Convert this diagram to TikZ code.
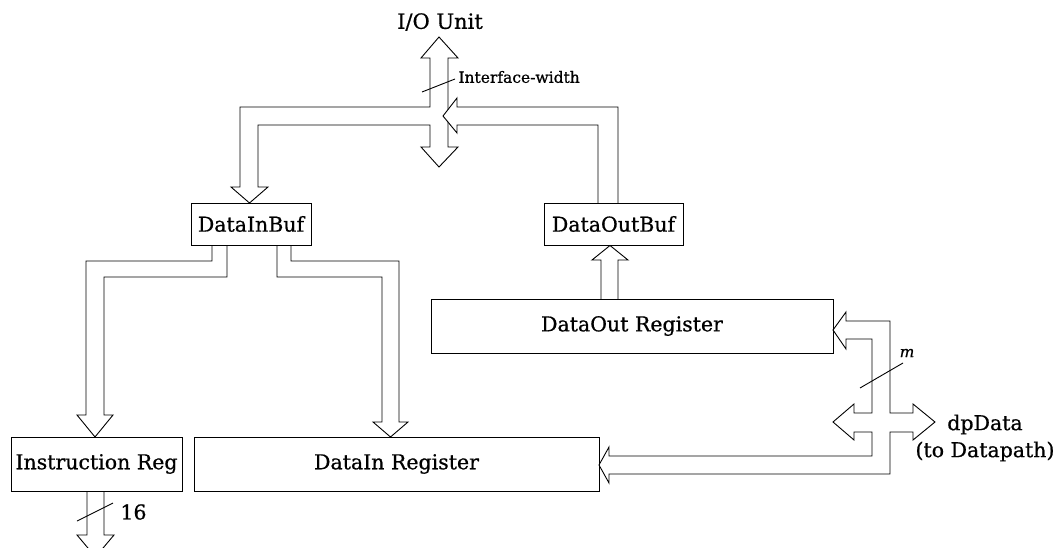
\documentclass[tikz,border=0pt]{standalone}
\usepackage{fontspec}
\setmainfont{DejaVu Serif}[RawFeature={embolden=0.7}]
\begin{document}
\begin{tikzpicture}[x=1pt,y=-1pt,line width=0.9pt,
  bus/.style={draw=black,line join=miter,miter limit=20},
  box/.style={draw=black,rectangle,inner sep=0pt,font=\fontsize{20.5}{24}\selectfont},
  lbl/.style={inner sep=0pt,font=\fontsize{20.5}{27}\selectfont},
  smalllbl/.style={inner sep=0pt,font=\fontsize{15.5}{18}\selectfont}]
\useasboundingbox (0,0) rectangle (1060,548);
\clip (0,0) rectangle (1060,548);
% boxes
\node[box,minimum width=120pt,minimum height=42pt] (inbuf) at (251,224) {DataInBuf};
\node[box,minimum width=139pt,minimum height=42pt] (outbuf) at (613.5,224) {DataOutBuf};
\node[box,minimum width=402pt,minimum height=54pt] (outreg) at (632,326) {DataOut Register};
\node[box,minimum width=171pt,minimum height=54pt] (ireg) at (96.5,464) {Instruction Reg};
\node[box,minimum width=405pt,minimum height=54pt] (inreg) at (396.5,464) {DataIn Register};
% labels
\node[lbl,font=\fontsize{21}{27}\selectfont] (io) at (440,22) {I/O Unit};
\node[smalllbl,anchor=west] (iw) at (458,77) {Interface-width};
\node[lbl,align=center] (dp) at (985,438) {dpData\\(to Datapath)};
\node[lbl,anchor=west] (w16) at (120,512) {16};
\node[smalllbl,font=\fontsize{15.5}{18}\selectfont\itshape] (m) at (907,353) {m};
% I/O bus with branch to DataInBuf
\draw[bus] (448,109.6) -- (448,58) -- (458,58) -- (439,37) -- (421,58) -- (430,58) -- (430,107)
  -- (240,107) -- (240,187) -- (231,187) -- (249.5,203) -- (268,187) -- (258,187) -- (258,125)
  -- (430,125) -- (430,147) -- (421,147) -- (439,167) -- (458,147) -- (448,147) -- (448,122);
% DataOutBuf to I/O bus
\draw[bus] (598,203) -- (598,125) -- (457,125) -- (457,133) -- (443,116) -- (457,98) -- (457,107)
  -- (618,107) -- (618,203);
% DataOut Register to DataOutBuf
\draw[bus] (601,299) -- (601,260) -- (592,260) -- (610,245.5) -- (628,260) -- (618,260) -- (618,299);
% DataInBuf to Instruction Reg
\draw[bus] (212,245) -- (212,261) -- (86,261) -- (86,415) -- (77,415) -- (95,437) -- (113,415)
  -- (104,415) -- (104,277) -- (227,277) -- (227,245);
% DataInBuf to DataIn Register
\draw[bus] (277,245) -- (277,277) -- (382,277) -- (382,422) -- (373,422) -- (390.5,437) -- (408,422)
  -- (399,422) -- (399,261) -- (291,261) -- (291,245);
% Instruction Reg output
\draw[bus] (87,491) -- (87,535) -- (77,535) -- (95.5,557) -- (114,535) -- (104,535) -- (104,491);
\draw (77,521) -- (113,503);
% dpData bus
\draw[bus] (872,413) -- (872,339) -- (846,339) -- (846,349) -- (833,330) -- (846,312) -- (846,321)
  -- (890,321) -- (890,413) -- (913,413) -- (913,404) -- (935,422) -- (913,440) -- (913,432)
  -- (890,432) -- (890,474) -- (609,474) -- (609,483) -- (599,465) -- (609,447) -- (609,456)
  -- (872,456) -- (872,432) -- (854,432) -- (854,440) -- (833,422) -- (854,404) -- (854,413) -- cycle;
\draw (860,388) -- (903,363);
% interface-width slash
\draw (422,92) -- (455,79);
\end{tikzpicture}
\end{document}
